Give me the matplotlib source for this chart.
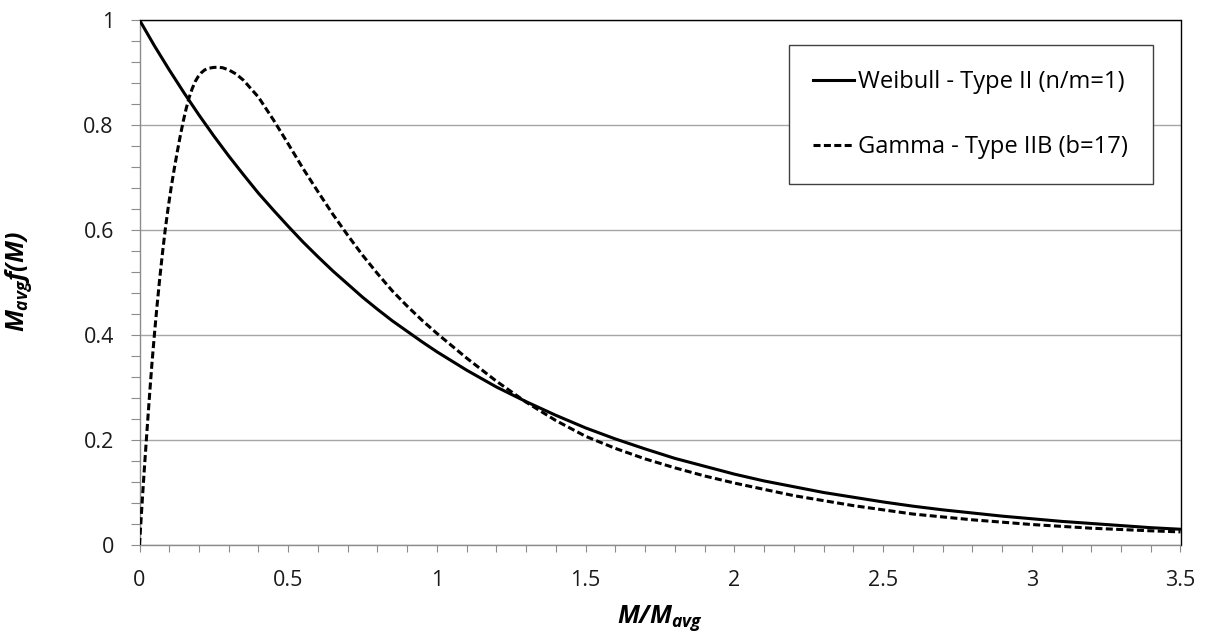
import numpy as np
import matplotlib
matplotlib.use("Agg")
from matplotlib import pyplot as plt
from matplotlib.ticker import MultipleLocator, FormatStrFormatter

plt.rcParams['font.family'] = ['Open Sans', 'DejaVu Sans']
plt.rcParams['mathtext.fontset'] = 'custom'
plt.rcParams['mathtext.it'] = 'Open Sans:italic:bold'
plt.rcParams['mathtext.rm'] = 'Open Sans:italic:bold'
plt.rcParams['mathtext.default'] = 'it'

# Weibull type II, n/m = 1
weibull_x = [0.0, 0.05, 0.1, 0.15, 0.2, 0.25, 0.3, 0.35, 0.4, 0.45, 0.5, 0.55,
             0.6, 0.65, 0.7, 0.75, 0.8, 0.85, 0.9, 0.95, 1.0, 1.1, 1.2, 1.3,
             1.4, 1.5, 1.6, 1.7, 1.8, 1.9, 2.0, 2.1, 2.2, 2.3, 2.4, 2.5, 2.6,
             2.7, 2.8, 2.9, 3.0, 3.1, 3.2, 3.3, 3.4, 3.5]
weibull_y = [1.000, 0.951, 0.905, 0.861, 0.819, 0.779, 0.741, 0.705, 0.670,
             0.638, 0.607, 0.577, 0.549, 0.522, 0.497, 0.472, 0.449, 0.427,
             0.407, 0.387, 0.368, 0.333, 0.301, 0.273, 0.247, 0.223, 0.202,
             0.183, 0.165, 0.150, 0.135, 0.122, 0.111, 0.100, 0.091, 0.082,
             0.074, 0.067, 0.061, 0.055, 0.050, 0.045, 0.041, 0.037, 0.033,
             0.030]

# Gamma type IIB, b = 17
gamma_x = [0.000, 0.005, 0.011, 0.017, 0.023, 0.029, 0.035, 0.042, 0.050,
           0.058, 0.067, 0.077, 0.087, 0.097, 0.107, 0.117, 0.127, 0.137,
           0.147, 0.157, 0.167, 0.177, 0.187, 0.197, 0.207, 0.217, 0.227,
           0.237, 0.250, 0.265, 0.280, 0.300, 0.325, 0.350, 0.400, 0.450,
           0.500, 0.550, 0.600, 0.650, 0.700, 0.750, 0.800, 0.850, 0.900,
           0.950, 1.000, 1.100, 1.200, 1.300, 1.400, 1.500, 1.600, 1.700,
           1.800, 1.900, 2.000, 2.200, 2.400, 2.600, 2.800, 3.000, 3.200,
           3.400, 3.500]
gamma_y = [0.000, 0.046, 0.100, 0.151, 0.200, 0.248, 0.295, 0.347, 0.400,
           0.450, 0.502, 0.555, 0.603, 0.645, 0.683, 0.717, 0.749, 0.779,
           0.807, 0.8315, 0.8525, 0.869, 0.8825, 0.892, 0.899, 0.904, 0.9075,
           0.9085, 0.9097, 0.910, 0.909, 0.905, 0.897, 0.885, 0.853, 0.810,
           0.764, 0.717, 0.673, 0.630, 0.590, 0.552, 0.517, 0.484, 0.455,
           0.428, 0.403, 0.356, 0.312, 0.272, 0.237, 0.207, 0.184, 0.164,
           0.147, 0.1315, 0.118, 0.094, 0.075, 0.059, 0.048, 0.039, 0.032,
           0.027, 0.025]

labels = ["Weibull - Type II (n/m=1)", "Gamma - Type IIB (b=17)"]

fig = plt.figure(figsize=(12.09, 6.39), dpi=100)
ax = fig.add_axes([139.5/1209, 1-545/639, (1180.5-139.5)/1209, (545-20)/639])

ax.plot(weibull_x, weibull_y, color="black", lw=2.2, label=labels[0],
        solid_joinstyle="round", zorder=3)
ax.plot(gamma_x, gamma_y, color="black", lw=2.2, dashes=(2.3, 1.1),
        label=labels[1], zorder=3)

ax.set_xlim(0, 3.5)
ax.set_ylim(0, 1)
ax.xaxis.set_major_locator(MultipleLocator(0.5))
ax.xaxis.set_minor_locator(MultipleLocator(0.1))
ax.yaxis.set_major_locator(MultipleLocator(0.2))
ax.yaxis.set_minor_locator(MultipleLocator(0.04))
ax.xaxis.set_major_formatter(FormatStrFormatter('%g'))
ax.yaxis.set_major_formatter(FormatStrFormatter('%g'))

ax.grid(axis='y', which='major', color='#a6a6a6', lw=1.0, zorder=1)
ax.set_axisbelow(True)

for side in ['left', 'bottom']:
    ax.spines[side].set_color('#8c8c8c')
    ax.spines[side].set_linewidth(1.0)
for side in ['top', 'right']:
    ax.spines[side].set_color('black')
    ax.spines[side].set_linewidth(1.0)

ax.tick_params(axis='y', which='both', direction='out', length=6.5, width=0.8,
               color='#8c8c8c', pad=12, labelsize=15.5, labelcolor='#1a1a1a')
ax.tick_params(axis='x', which='both', direction='out', length=5, width=0.8,
               color='#8c8c8c', pad=13, labelsize=15.5, labelcolor='#1a1a1a')

fig.text(660/1209, 1-618/639, r'$M/M_{avg}$', ha='center', va='center',
         fontsize=18)
fig.text(19/1209, 1-282/639, r'$M_{avg}f(M)$', ha='center', va='center',
         fontsize=18, rotation=90)

leg = ax.legend(loc='upper right', bbox_to_anchor=(1153/1209, 1-45/639),
                bbox_transform=fig.transFigure, fontsize=17, frameon=True,
                fancybox=False, shadow=False, handlelength=1.7,
                handletextpad=0.2, labelspacing=1.75, borderpad=1.05,
                borderaxespad=0)
leg.get_frame().set_edgecolor('#404040')
leg.get_frame().set_linewidth(1.0)
leg.get_frame().set_alpha(1)

fig.savefig("out.png", dpi=100)
